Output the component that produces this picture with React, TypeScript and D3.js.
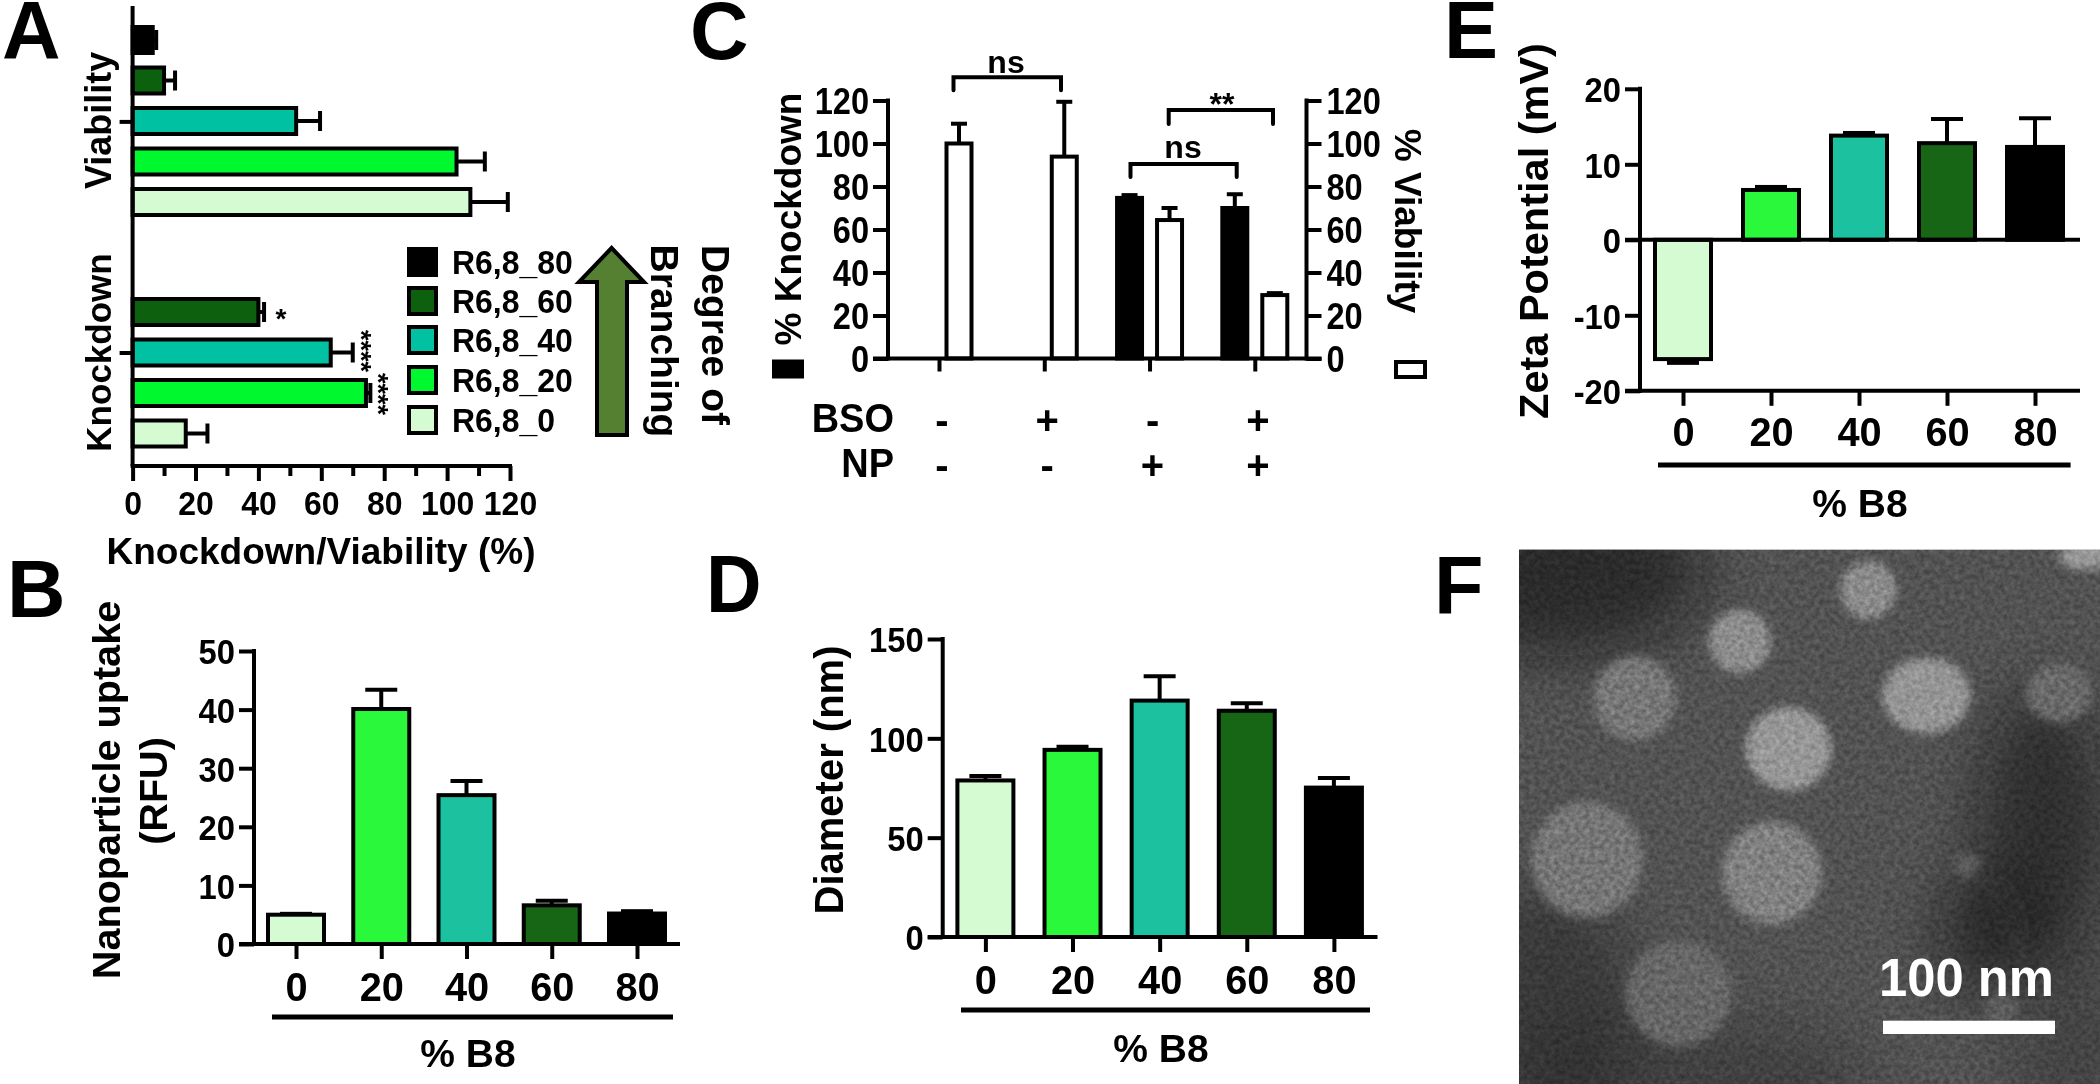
import { useEffect, useRef } from 'react';
import * as d3 from 'd3';

const FONT = "'Liberation Sans', Arial, sans-serif";
const INK = '#000';
const STROKE = 4;

// shared series, R6,8_0 .. R6,8_80
const branchPercent = ['0', '20', '40', '60', '80'];
const legendNames = ['R6,8_80', 'R6,8_60', 'R6,8_40', 'R6,8_20', 'R6,8_0'];
const barColors = ['#d5fbd3', '#29f93b', '#1fc2a0', '#126617', '#000000'];
const panelAColors = ['#d5fbd3', '#00f92d', '#00c2a3', '#0b610f', '#000000'];

// panel A, listed top to bottom
const viabilityValues = [6.4, 10, 52, 103, 107.4];
const viabilityErr = [1.1, 3.5, 7.6, 9, 11.9];
const knockdownValues = [null, 40, 63, 74.2, 16.9];
const knockdownErr = [null, 1.8, 7, 1.4, 6.9];

// panel B
const uptakeValues = [5, 40.1, 25.4, 6.6, 5.2];
const uptakeErr = [0.15, 3.3, 2.4, 0.8, 0.4];

// panel C
const treatmentGroups = ['none', 'BSO', 'NP', 'BSO+NP'];
const bsoSigns = ['-', '+', '-', '+'];
const npSigns = ['-', '-', '+', '+'];
const cKnockdown = [null, null, 74.7, 70];
const cKnockdownErr = [null, null, 1.3, 6.4];
const cViability = [100, 93.9, 64.4, 29.5];
const cViabilityErr = [9.2, 25.5, 5.6, 0.9];
const percentTicks = [0, 20, 40, 60, 80, 100, 120];

// panel D
const diameterValues = [78.8, 94.2, 119, 113.9, 75.2];
const diameterErr = [2.2, 1.6, 12.3, 3.8, 4.8];

// panel E
const zetaValues = [-15.8, 6.6, 13.8, 12.8, 12.3];
const zetaErr = [0.5, 0.4, 0.35, 3.2, 3.8];

// panel F micrograph, percent of frame: x, y, rx, ry and grey level
const particles = [
  [60.1, 7.6, 4.9, 5.4, 138],
  [38.0, 17.2, 5.4, 5.9, 140],
  [19.9, 27.8, 7.1, 7.9, 118],
  [70.1, 27.3, 7.6, 7.1, 148],
  [92.9, 26.8, 5.7, 5.6, 104],
  [46.4, 37.3, 7.4, 7.8, 150],
  [11.7, 58.0, 9.6, 10.9, 116],
  [43.5, 60.5, 8.6, 9.6, 128],
  [27.5, 83.0, 9.1, 9.9, 102],
  [97.6, 1.3, 4.7, 2.5, 150],
  [77, 59, 2.4, 2.4, 90],
  [83, 86, 3, 3, 92],
];
const shadows = [
  [6, 4, 26, 16, 0.55],
  [90, 52, 11, 26, 0.5],
  [80, 72, 8, 12, 0.5],
  [4, 85, 16, 22, 0.35],
  [30, 100, 30, 12, 0.25],
  [95, 95, 10, 20, 0.2],
];

type Sel = d3.Selection<any, any, any, any>;

interface LabelOpts {
  size: number;
  rotate?: number;
  anchor?: string;
  sx?: number;
  fill?: string;
  dy?: string;
}

function label(g: Sel, text: string, x: number, y: number, opts: LabelOpts) {
  const { size, rotate = 0, anchor = 'middle', sx = 1, fill = INK, dy = '0.36em' } = opts;
  return g
    .append('text')
    .attr('transform', `translate(${x},${y}) rotate(${rotate}) scale(${sx},1)`)
    .attr('text-anchor', anchor)
    .attr('dy', dy)
    .attr('font-family', FONT)
    .attr('font-weight', 700)
    .attr('font-size', size)
    .attr('fill', fill)
    .text(text);
}

function styleAxis(group: Sel) {
  group.select('.domain').remove();
  group.selectAll('.tick line').attr('stroke', INK).attr('stroke-width', STROKE);
}

function rule(g: Sel, x1: number, y1: number, x2: number, y2: number, w = STROKE) {
  g.append('line')
    .attr('x1', x1)
    .attr('y1', y1)
    .attr('x2', x2)
    .attr('y2', y2)
    .attr('stroke', INK)
    .attr('stroke-width', w);
}

function bracket(g: Sel, x1: number, x2: number, y: number, leg: number) {
  g.append('path')
    .attr('d', `M${x1},${y + leg}V${y}H${x2}V${y + leg}`)
    .attr('fill', 'none')
    .attr('stroke', INK)
    .attr('stroke-width', STROKE)
    .attr('stroke-linecap', 'round');
}

function yTicks(
  g: Sel,
  y: d3.ScaleLinear<number, number>,
  ticks: number[],
  x: number,
  side: 'left' | 'right',
  size = 36,
  sx = 0.91,
) {
  const axis = side === 'left' ? d3.axisLeft(y) : d3.axisRight(y);
  const group = g
    .append('g')
    .attr('transform', `translate(${x},0)`)
    .call(axis.tickValues(ticks).tickSize(15).tickFormat((d) => String(d)));
  styleAxis(group);
  const off = side === 'left' ? -19 : 20;
  group
    .selectAll('.tick text')
    .attr('x', null)
    .attr('transform', `translate(${off},0) scale(${sx},1)`)
    .attr('dy', '0.36em')
    .attr('fill', INK)
    .attr('font-family', FONT)
    .attr('font-weight', 700)
    .attr('font-size', size);
  rule(g, x, y.range()[1] - 2, x, y.range()[0] + 2);
}

// one vertical bar with its whisker, upward or downward
function column(
  g: Sel,
  cx: number,
  width: number,
  v: number,
  err: number,
  fill: string,
  y: d3.ScaleLinear<number, number>,
  capW = 32,
) {
  const tip = v < 0 ? v - err : v + err;
  rule(g, cx, y(v), cx, y(tip));
  rule(g, cx - capW / 2, y(tip), cx + capW / 2, y(tip));
  g.append('rect')
    .attr('x', cx - width / 2)
    .attr('y', Math.min(y(v), y(0)))
    .attr('width', width)
    .attr('height', Math.abs(y(v) - y(0)))
    .attr('fill', fill)
    .attr('stroke', INK)
    .attr('stroke-width', STROKE);
}

interface ColumnPanel {
  values: number[];
  errs: number[];
  yDomain: [number, number];
  yRange: [number, number];
  yTickValues: number[];
  axisX: number;
  firstX: number;
  lastX: number;
  rightEnd: number;
  bracketX: [number, number];
  bracketY: number;
  tickLabelY: number;
  unitX: number;
  unitY: number;
}

function columnPanel(g: Sel, p: ColumnPanel) {
  const y = d3.scaleLinear().domain(p.yDomain).range(p.yRange);
  const x = d3.scalePoint<string>().domain(branchPercent).range([p.firstX, p.lastX]);
  const xAxisY = p.yRange[0];

  branchPercent.forEach((key, i) => {
    column(g, x(key) ?? 0, 56, p.values[i], p.errs[i], barColors[i], y);
  });

  const xGroup = g
    .append('g')
    .attr('transform', `translate(0,${xAxisY})`)
    .call(d3.axisBottom(x).tickSize(15));
  styleAxis(xGroup);
  xGroup
    .selectAll('.tick text')
    .attr('x', 0)
    .attr('y', p.tickLabelY - xAxisY)
    .attr('dy', '0.36em')
    .attr('transform', 'scale(0.97,1)')
    .attr('fill', INK)
    .attr('font-family', FONT)
    .attr('font-weight', 700)
    .attr('font-size', 41);

  rule(g, p.axisX - 15, xAxisY, p.rightEnd, xAxisY);
  if (p.yDomain[0] < 0) rule(g, p.axisX - 15, y(0), p.rightEnd, y(0));
  yTicks(g, y, p.yTickValues, p.axisX, 'left');

  rule(g, p.bracketX[0], p.bracketY, p.bracketX[1], p.bracketY, 5);
  label(g, '% B8', p.unitX, p.unitY, { size: 39 });
}

function drawPanelA(g: Sel) {
  const x = d3.scaleLinear().domain([0, 120]).range([132.6, 510]);
  const viaRows = d3.scaleBand<string>().domain(legendNames).range([19.75, 222.25]);
  const kdRows = d3.scaleBand<string>().domain(legendNames).range([251.25, 453.75]);
  const baseY = 466;

  const hbar = (rows: d3.ScaleBand<string>, values: (number | null)[], errs: (number | null)[]) => {
    legendNames.forEach((name, i) => {
      const v = values[i];
      if (v === null) return;
      const cy = (rows(name) ?? 0) + rows.bandwidth() / 2;
      const tip = x(v + (errs[i] ?? 0));
      rule(g, x(v), cy, tip, cy);
      rule(g, tip, cy - 10, tip, cy + 10);
      g.append('rect')
        .attr('x', x(0))
        .attr('y', cy - 13)
        .attr('width', x(v) - x(0))
        .attr('height', 26)
        .attr('fill', panelAColors[4 - i])
        .attr('stroke', INK)
        .attr('stroke-width', STROKE);
    });
  };
  hbar(viaRows, viabilityValues, viabilityErr);
  hbar(kdRows, knockdownValues, knockdownErr);

  const minor = g
    .append('g')
    .attr('transform', `translate(0,${baseY})`)
    .call(d3.axisBottom(x).tickValues(d3.range(10, 120, 20)).tickSize(10).tickFormat(() => ''));
  styleAxis(minor);
  const major = g
    .append('g')
    .attr('transform', `translate(0,${baseY})`)
    .call(d3.axisBottom(x).tickValues(d3.range(0, 121, 20)).tickSize(15).tickFormat((d) => String(d)));
  styleAxis(major);
  major
    .selectAll('.tick text')
    .attr('y', 37)
    .attr('dy', '0.36em')
    .attr('transform', 'scale(0.94,1)')
    .attr('fill', INK)
    .attr('font-family', FONT)
    .attr('font-weight', 700)
    .attr('font-size', 34);
  rule(g, x(0) - 2, baseY, x(120) + 2, baseY);

  const groups = d3.scalePoint<string>().domain(['Viability', 'Knockdown']).range([121.4, 352.5]);
  const side = g
    .append('g')
    .attr('transform', `translate(${x(0)},0)`)
    .call(d3.axisLeft(groups).tickSize(13).tickFormat(() => ''));
  styleAxis(side);
  rule(g, x(0), 6, x(0), baseY);
  label(g, 'Viability', 98, (groups('Viability') ?? 0) - 1, { size: 36, rotate: -90 });
  label(g, 'Knockdown', 98, groups('Knockdown') ?? 0, { size: 35, rotate: -90 });
  label(g, 'Knockdown/Viability (%)', 321, 551, { size: 37 });

  label(g, '*', 281, 313, { size: 28, dy: '0.55em' });
  label(g, '****', 367, 351, { size: 27, rotate: 90, dy: '0.55em' });
  label(g, '****', 384, 394, { size: 27, rotate: 90, dy: '0.55em' });

  legendNames.forEach((name, i) => {
    const cy = [262, 301, 340, 380, 420][i];
    g.append('rect')
      .attr('x', 409)
      .attr('y', cy - 13)
      .attr('width', 27)
      .attr('height', 26)
      .attr('fill', panelAColors[4 - i])
      .attr('stroke', INK)
      .attr('stroke-width', STROKE);
    label(g, name, 452, cy, { size: 34, anchor: 'start', sx: 0.94 });
  });

  g.append('path')
    .attr('d', 'M597,435V282H579L611.6,248L644,282H627V435Z')
    .attr('fill', '#558030')
    .attr('stroke', INK)
    .attr('stroke-width', STROKE);
  label(g, 'Degree of', 716, 335, { size: 39, rotate: 90 });
  label(g, 'Branching', 665, 341, { size: 39, rotate: 90 });
}

function drawPanelC(g: Sel) {
  const y = d3.scaleLinear().domain([0, 120]).range([358.5, 100.5]);
  const x = d3.scalePoint<string>().domain(treatmentGroups).range([939, 1254.8]);
  const leftX = 888;
  const rightX = 1306.5;

  treatmentGroups.forEach((key, i) => {
    const cx = x(key) ?? 0;
    const kd = cKnockdown[i];
    if (kd !== null) column(g, cx - 20, 25, kd, cKnockdownErr[i] ?? 0, '#000', y, 16);
    column(g, cx + 20, 25, cViability[i], cViabilityErr[i], '#fff', y, 16);
  });

  const xGroup = g
    .append('g')
    .attr('transform', `translate(0,${y(0)})`)
    .call(d3.axisBottom(x).tickSize(13).tickFormat(() => ''));
  styleAxis(xGroup);
  rule(g, leftX - 15, y(0), rightX + 15, y(0));
  yTicks(g, y, percentTicks, leftX, 'left', 37, 0.88);
  yTicks(g, y, percentTicks, rightX, 'right', 37, 0.88);

  bracket(g, 953.5, 1061, 77.3, 13);
  label(g, 'ns', 1006, 61, { size: 32 });
  bracket(g, 1168.7, 1273, 110, 14);
  label(g, '**', 1222, 97, { size: 32, dy: '0.55em' });
  bracket(g, 1130.5, 1236.7, 164, 13);
  label(g, 'ns', 1183, 146, { size: 32 });

  label(g, '% Knockdown', 788, 219, { size: 37, rotate: -90 });
  g.append('rect').attr('x', 772).attr('y', 359.5).attr('width', 32).attr('height', 19).attr('fill', INK);
  label(g, '% Viability', 1408, 221, { size: 37, rotate: 90 });
  g.append('rect')
    .attr('x', 1396)
    .attr('y', 362)
    .attr('width', 29)
    .attr('height', 15)
    .attr('fill', '#fff')
    .attr('stroke', INK)
    .attr('stroke-width', STROKE);

  label(g, 'BSO', 894, 418, { size: 40, anchor: 'end', sx: 0.95 });
  label(g, 'NP', 894, 463, { size: 40, anchor: 'end', sx: 0.95 });
  treatmentGroups.forEach((key, i) => {
    const cx = (x(key) ?? 0) + 3;
    label(g, bsoSigns[i], cx, 420, { size: 40 });
    label(g, npSigns[i], cx, 465, { size: 40 });
  });
}

function drawPanelF(g: Sel) {
  const frame = { x: 1519, y: 549.4, w: 581, h: 534.6 };
  const px = d3.scaleLinear().domain([0, 100]).range([frame.x, frame.x + frame.w]);
  const py = d3.scaleLinear().domain([0, 100]).range([frame.y, frame.y + frame.h]);
  const rw = d3.scaleLinear().domain([0, 100]).range([0, frame.w]);
  const rh = d3.scaleLinear().domain([0, 100]).range([0, frame.h]);

  const defs = g.append('defs');
  defs
    .append('clipPath')
    .attr('id', 'tem-frame')
    .append('rect')
    .attr('x', frame.x)
    .attr('y', frame.y)
    .attr('width', frame.w)
    .attr('height', frame.h);
  defs.append('filter').attr('id', 'soft').attr('x', '-30%').attr('y', '-30%').attr('width', '160%').attr('height', '160%')
    .append('feGaussianBlur').attr('stdDeviation', 4);
  defs.append('filter').attr('id', 'softer').attr('x', '-60%').attr('y', '-60%').attr('width', '220%').attr('height', '220%')
    .append('feGaussianBlur').attr('stdDeviation', 26);
  const grain = defs
    .append('filter')
    .attr('id', 'grain')
    .attr('color-interpolation-filters', 'sRGB')
    .attr('x', 0)
    .attr('y', 0)
    .attr('width', '100%')
    .attr('height', '100%');
  grain
    .append('feTurbulence')
    .attr('type', 'fractalNoise')
    .attr('baseFrequency', 0.2)
    .attr('numOctaves', 3)
    .attr('seed', 7);
  grain
    .append('feColorMatrix')
    .attr('type', 'matrix')
    .attr('values', '1.6 0 0 0 -0.3 1.6 0 0 0 -0.3 1.6 0 0 0 -0.3 0 0 0 0 1');

  const image = g.append('g').attr('clip-path', 'url(#tem-frame)');
  image
    .append('rect')
    .attr('x', frame.x)
    .attr('y', frame.y)
    .attr('width', frame.w)
    .attr('height', frame.h)
    .attr('fill', '#525252');
  image
    .selectAll('ellipse.shadow')
    .data(shadows)
    .join('ellipse')
    .attr('class', 'shadow')
    .attr('cx', (d) => px(d[0]))
    .attr('cy', (d) => py(d[1]))
    .attr('rx', (d) => rw(d[2]))
    .attr('ry', (d) => rh(d[3]))
    .attr('fill', '#111')
    .attr('opacity', (d) => d[4])
    .attr('filter', 'url(#softer)');
  image
    .selectAll('ellipse.particle')
    .data(particles)
    .join('ellipse')
    .attr('class', 'particle')
    .attr('cx', (d) => px(d[0]))
    .attr('cy', (d) => py(d[1]))
    .attr('rx', (d) => rw(d[2]))
    .attr('ry', (d) => rh(d[3]))
    .attr('fill', (d) => d3.rgb(d[4], d[4], d[4]).formatHex())
    .attr('filter', 'url(#soft)');
  image
    .append('rect')
    .attr('x', frame.x)
    .attr('y', frame.y)
    .attr('width', frame.w)
    .attr('height', frame.h)
    .attr('filter', 'url(#grain)')
    .attr('opacity', 0.2)
    .style('mix-blend-mode', 'overlay');

  g.append('rect').attr('x', 1883).attr('y', 1020.7).attr('width', 172).attr('height', 13.3).attr('fill', '#fff');
  label(g, '100 nm', 1879, 977, { size: 54, anchor: 'start', sx: 0.94, fill: '#fff' });
}

export default function App() {
  const svgRef = useRef<SVGSVGElement>(null);

  useEffect(() => {
    if (!svgRef.current) return;
    const svg = d3.select(svgRef.current);
    svg.selectAll('*').remove();

    // the source figure is a slightly soft raster, so everything gets a small blur
    svg.append('defs').append('filter').attr('id', 'page-soft')
      .attr('filterUnits', 'userSpaceOnUse')
      .attr('x', 0).attr('y', 0).attr('width', 2100).attr('height', 1084)
      .append('feGaussianBlur').attr('stdDeviation', 0.7);
    const root = svg.append('g').attr('filter', 'url(#page-soft)');
    root.append('rect').attr('width', 2100).attr('height', 1084).attr('fill', '#fff');

    const letters: [string, number, number, number][] = [
      ['A', 2, 29, 1],
      ['B', 7, 588, 1],
      ['C', 690, 30, 1],
      ['D', 706, 582.5, 0.95],
      ['E', 1444, 29, 1],
      ['F', 1434, 585, 1],
    ];
    letters.forEach(([t, x, y, sx]) => label(root, t, x, y, { size: 81, anchor: 'start', sx }));

    drawPanelA(root.append('g'));

    const panelB = root.append('g');
    columnPanel(panelB, {
      values: uptakeValues,
      errs: uptakeErr,
      yDomain: [0, 50],
      yRange: [944, 651],
      yTickValues: [0, 10, 20, 30, 40, 50],
      axisX: 254,
      firstX: 296,
      lastX: 637,
      rightEnd: 680,
      bracketX: [272, 673],
      bracketY: 1017,
      tickLabelY: 986,
      unitX: 468,
      unitY: 1053,
    });
    label(panelB, 'Nanoparticle uptake', 106, 790, { size: 39.6, rotate: -90 });
    label(panelB, '(RFU)', 153, 791, { size: 39.6, rotate: -90 });

    drawPanelC(root.append('g'));

    const panelD = root.append('g');
    columnPanel(panelD, {
      values: diameterValues,
      errs: diameterErr,
      yDomain: [0, 150],
      yRange: [937, 639],
      yTickValues: [0, 50, 100, 150],
      axisX: 942.7,
      firstX: 985.4,
      lastX: 1333.9,
      rightEnd: 1377.5,
      bracketX: [961, 1370],
      bracketY: 1010,
      tickLabelY: 979,
      unitX: 1161,
      unitY: 1048,
    });
    label(panelD, 'Diameter (nm)', 829, 780, { size: 40, rotate: -90 });

    const panelE = root.append('g');
    columnPanel(panelE, {
      values: zetaValues,
      errs: zetaErr,
      yDomain: [-20, 20],
      yRange: [390.8, 88.8],
      yTickValues: [-20, -10, 0, 10, 20],
      axisX: 1640,
      firstX: 1683,
      lastX: 2035,
      rightEnd: 2080,
      bracketX: [1658, 2070.6],
      bracketY: 465,
      tickLabelY: 431,
      unitX: 1860,
      unitY: 503,
    });
    label(panelE, 'Zeta Potential (mV)', 1533, 231, { size: 41.5, rotate: -90 });

    drawPanelF(root.append('g'));
  }, []);

  return (
    <svg
      ref={svgRef}
      width={2100}
      height={1084}
      viewBox="0 0 2100 1084"
      style={{ position: 'absolute', left: 0, top: 0, background: '#fff' }}
    />
  );
}
